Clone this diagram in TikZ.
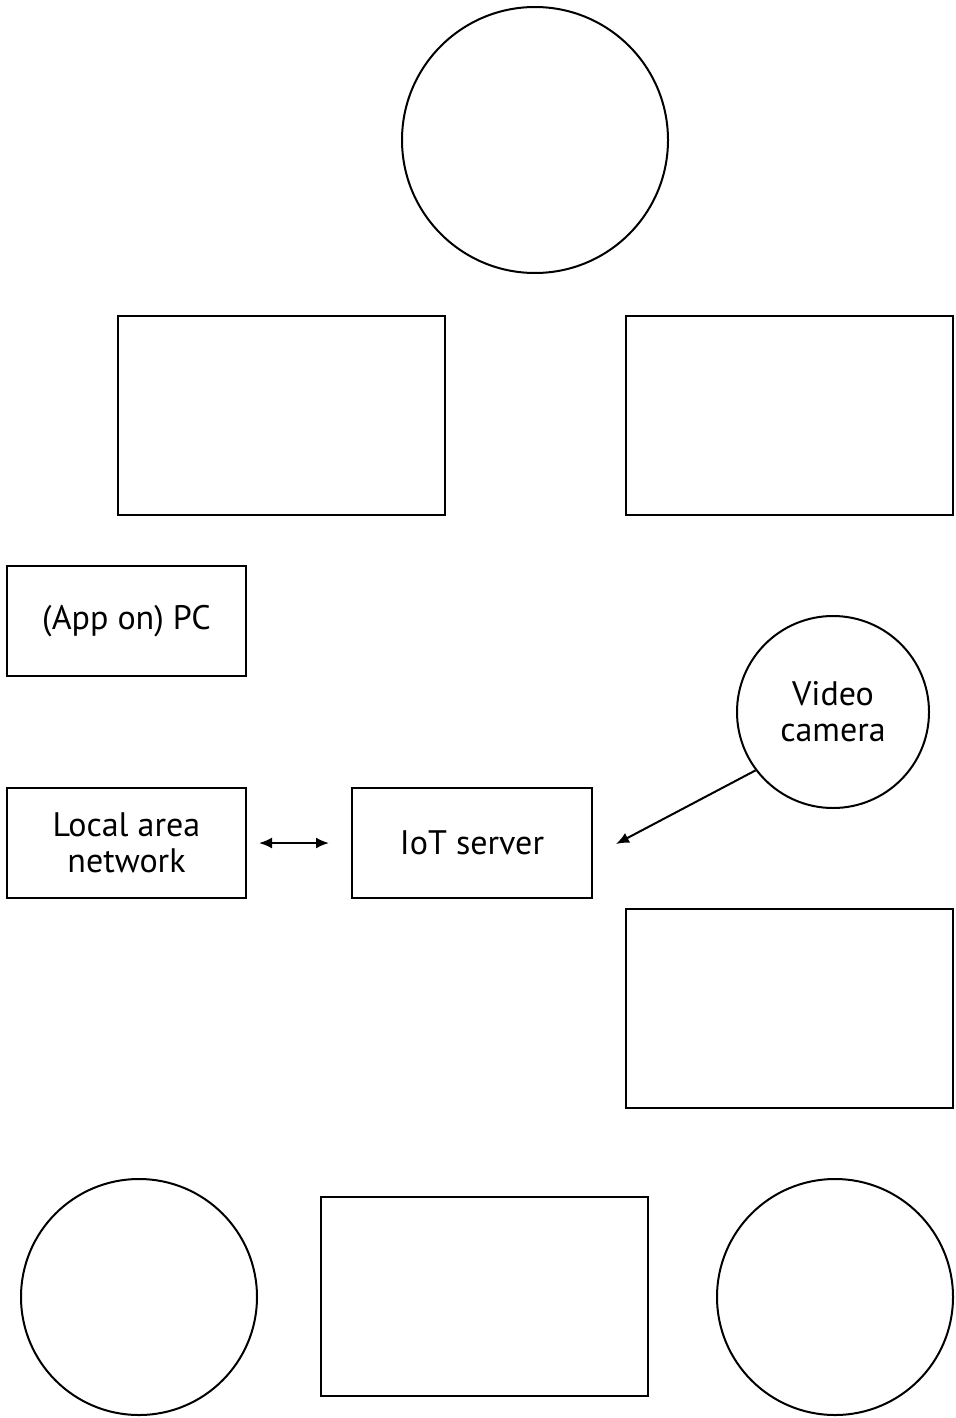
\documentclass[tikz,border=0pt]{standalone}
\usepackage{fontspec}
\setmainfont{PT Sans}
\usetikzlibrary{shapes,arrows.meta,positioning}

\begin{document}
\begin{tikzpicture}[
    x=0.5pt, y=-0.5pt,
    line width=1pt,
    >={Latex[length=6.5pt,width=5.5pt]},
    font=\fontsize{17}{18}\selectfont,
    big box/.style={rectangle,draw,minimum width=163.5pt,minimum height=99.5pt},
    small box/.style={rectangle,draw,align=center,minimum width=119.5pt,minimum height=55pt},
    big circle/.style={circle,draw,minimum size=133pt,inner sep=0pt},
    end circle/.style={circle,draw,minimum size=118pt,inner sep=0pt},
    cam circle/.style={circle,draw,align=center,minimum size=96pt,inner sep=0pt}
]
\useasboundingbox (0,0) rectangle (956,1418);

% Top
\node[big circle] (top) at (535,140) {};

% Upper boxes
\node[big box] (left_box) at (281.5,415.5) {};
\node[big box] (right_box) at (789.5,415.5) {};

% PC and camera
\node[small box] (pc) at (126.5,621) {(App on) PC};
\node[cam circle] (camera) at (833,712) {Video\\camera};

% Network and server
\node[small box] (lan) at (126.5,843) {Local area\\network};
\node[small box, minimum width=120pt] (iot) at (472,843) {IoT server};
\coordinate (cam_tip) at (616,844);

% Lower box
\node[big box] (lower_box) at (789.5,1008.5) {};

% Bottom row
\node[end circle] (bottom_left) at (139,1297) {};
\node[big box] (bottom_box) at (484.5,1296.5) {};
\node[end circle] (bottom_right) at (835,1297) {};

% Arrows
\draw[<->, shorten <=6pt, shorten >=11pt] (lan) -- (iot);
\draw[->] (camera.217) -- (cam_tip);

\end{tikzpicture}
\end{document}
